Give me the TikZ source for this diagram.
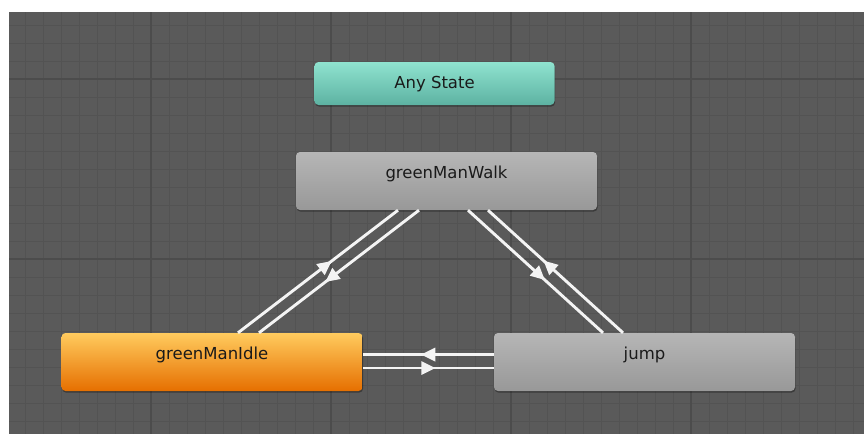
\documentclass[tikz,border=0pt]{standalone}
\usepackage{fontspec}
\setmainfont{DejaVu Sans}
\usetikzlibrary{calc,shadows,decorations.markings}
\definecolor{gridbg}{HTML}{5A5A5A}
\definecolor{gridminor}{HTML}{535353}
\definecolor{gridmajor}{HTML}{4C4C4C}
\definecolor{anytop}{HTML}{8FE3CF}
\definecolor{anybot}{HTML}{5DB2A2}
\definecolor{greytop}{HTML}{B6B6B6}
\definecolor{greybot}{HTML}{989898}
\definecolor{idletop}{HTML}{FFCB5E}
\definecolor{idlebot}{HTML}{E66F00}
\definecolor{labeltext}{HTML}{1A1A1A}
\definecolor{transcol}{HTML}{F4F4F4}
\tikzset{
  statebox/.style={rectangle, rounded corners=4pt, inner sep=0pt,
    minimum width=301pt, minimum height=58pt,
    font=\fontsize{16.5}{19}\selectfont, text=labeltext,
    text height=12pt, text depth=17pt,
    drop shadow={shadow xshift=0.6pt, shadow yshift=-1.6pt, opacity=0.35, fill=black}},
  anybox/.style={statebox, minimum width=240pt, minimum height=43pt,
    text height=12pt, text depth=2pt, top color=anytop, bottom color=anybot},
  greybox/.style={statebox, top color=greytop, bottom color=greybot},
  idlebox/.style={statebox, top color=idletop, bottom color=idlebot},
  transline/.style={draw=transcol, line width=2.9pt},
  headfwd/.style={postaction={decorate}, decoration={markings,
    mark=at position #1 with {\fill[transcol] (7pt,0pt) -- (-7pt,7pt) -- (-7pt,-7pt) -- cycle;}}},
  headback/.style={postaction={decorate}, decoration={markings,
    mark=at position #1 with {\fill[transcol] (-7pt,0pt) -- (7pt,7pt) -- (7pt,-7pt) -- cycle;}}},
  minorline/.style={draw=gridminor, line width=1pt},
  majorline/.style={draw=gridmajor, line width=1.3pt}
}
\begin{document}
\begin{tikzpicture}[x=1pt,y=-1pt]
\useasboundingbox (0,0) rectangle (864,434);
\fill[white] (0,0) rectangle (864,434);
\fill[gridbg] (9,12) rectangle (864,434);
\begin{scope}
  \clip (9,12) rectangle (864,434);
  \foreach \gx in {25,43,...,864} \draw[minorline] (\gx,12) -- (\gx,434);
  \foreach \gy in {25,43,...,434} \draw[minorline] (9,\gy) -- (864,\gy);
  \foreach \gx in {151,331,511,691} \draw[majorline] (\gx,12) -- (\gx,434);
  \foreach \gy in {79,259} \draw[majorline] (9,\gy) -- (864,\gy);
\end{scope}

\node[anybox] (any) at (434.5,83.5) {Any State};
\node[greybox] (walk) at (446.5,181) {greenManWalk};
\node[idlebox] (idle) at (212,362) {greenManIdle};
\node[greybox] (jump) at (644.5,362) {jump};

% greenManIdle <-> greenManWalk
\draw[transline, headfwd=0.55] ($(idle.north)+(26,0)$) -- ($(walk.south)+(-48.5,0)$);
\draw[transline, headback=0.45] ($(idle.north)+(47,0)$) -- ($(walk.south)+(-27.5,0)$);
% greenManWalk <-> jump
\draw[transline, headfwd=0.53] ($(walk.south)+(21.5,0)$) -- ($(jump.north)+(-41.5,0)$);
\draw[transline, headback=0.45] ($(walk.south)+(41.5,0)$) -- ($(jump.north)+(-21.5,0)$);
% greenManIdle <-> jump
\draw[transline, headfwd=0.5] ($(jump.west)+(0,-7.5)$) -- ($(idle.east)+(0,-7.5)$);
\draw[transline, headfwd=0.5] ($(idle.east)+(0,6)$) -- ($(jump.west)+(0,6)$);
\end{tikzpicture}
\end{document}
